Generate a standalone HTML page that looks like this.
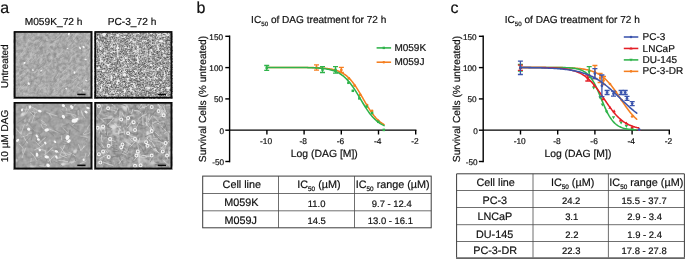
<!DOCTYPE html>
<html><head><meta charset="utf-8"><title>figure</title>
<style>
html,body{margin:0;padding:0;background:#fff;}
body{width:685px;height:259px;overflow:hidden;}
svg{display:block;will-change:transform;text-rendering:geometricPrecision;font-family:"Liberation Sans",sans-serif;fill:#111;}
text{stroke:#111;stroke-width:0.2px;}
</style></head><body>
<svg width="685" height="259" viewBox="0 0 685 259">
<defs>
<filter id="n1" x="0" y="0" width="100%" height="100%" color-interpolation-filters="sRGB"><feTurbulence type="fractalNoise" baseFrequency="0.3 0.3" numOctaves="3" seed="3" result="t"/><feColorMatrix in="t" type="matrix" values="0.3 0 0 0 0.51  0.3 0 0 0 0.51  0.3 0 0 0 0.51  0 0 0 0 1"/></filter>
<filter id="n2" x="0" y="0" width="100%" height="100%" color-interpolation-filters="sRGB"><feTurbulence type="fractalNoise" baseFrequency="0.7 0.7" numOctaves="2" seed="11" result="t"/><feColorMatrix in="t" type="matrix" values="0.88 0 0 0 0.15  0.88 0 0 0 0.15  0.88 0 0 0 0.15  0 0 0 0 1" result="g"/><feTurbulence type="fractalNoise" baseFrequency="0.3 0.3" numOctaves="2" seed="4" result="b"/><feColorMatrix in="b" type="matrix" values="0 0 0 0 0.93  0 0 0 0 0.93  0 0 0 0 0.93  6 0 0 0 -3.39" result="w"/><feMerge><feMergeNode in="g"/><feMergeNode in="w"/></feMerge></filter>
<filter id="n3" x="0" y="0" width="100%" height="100%" color-interpolation-filters="sRGB"><feTurbulence type="fractalNoise" baseFrequency="0.25 0.25" numOctaves="2" seed="5" result="t"/><feColorMatrix in="t" type="matrix" values="0.22 0 0 0 0.52  0.22 0 0 0 0.52  0.22 0 0 0 0.52  0 0 0 0 1" result="g"/><feTurbulence type="fractalNoise" baseFrequency="0.1 0.1" numOctaves="2" seed="9" result="b"/><feColorMatrix in="b" type="matrix" values="0 0 0 0 0.9  0 0 0 0 0.9  0 0 0 0 0.9  6 0 0 0 -4.2" result="w"/><feMerge><feMergeNode in="g"/><feMergeNode in="w"/></feMerge></filter>
<filter id="n4" x="0" y="0" width="100%" height="100%" color-interpolation-filters="sRGB"><feTurbulence type="fractalNoise" baseFrequency="0.3 0.3" numOctaves="2" seed="8" result="t"/><feColorMatrix in="t" type="matrix" values="0.32 0 0 0 0.46  0.32 0 0 0 0.46  0.32 0 0 0 0.46  0 0 0 0 1" result="g"/><feTurbulence type="fractalNoise" baseFrequency="0.09 0.09" numOctaves="2" seed="21" result="b"/><feColorMatrix in="b" type="matrix" values="0 0 0 0 0.85  0 0 0 0 0.85  0 0 0 0 0.85  5 0 0 0 -3" result="w"/><feMerge><feMergeNode in="g"/><feMergeNode in="w"/></feMerge></filter>
</defs>
<rect width="685" height="259" fill="#fff"/>
<g id="panel-a">
<text x="0.3" y="12.7" font-size="16">a</text>
<text x="53.6" y="25.3" font-size="10.2" text-anchor="middle">M059K_72 h</text>
<text x="132" y="25.3" font-size="10.2" text-anchor="middle">PC-3_72 h</text>
<text transform="translate(8.4,66.3) rotate(-90)" font-size="10" text-anchor="middle">Untreated</text>
<text transform="translate(8.4,136) rotate(-90)" font-size="10" text-anchor="middle">10 µM DAG</text>
<rect x="13.9" y="31.1" width="78.3" height="67.4" fill="#a8a8a8" filter="url(#n1)"/>
<path d="M27.43 62.03Q29.94 59.06 31.34 56.4M74.74 66.82Q74.9 66.7 77.24 64.51M85.37 54.69Q85.85 51.98 87.76 50.82M30.54 55.41Q30.98 53.65 32.82 49.71M57.06 89.43Q60.54 86.86 63.31 86.1M17.31 58.38Q18.85 56.64 21.88 53.26M82.97 48.67Q85.55 45.71 86.2 44.54M56.95 93.57Q59.31 91.08 60.34 88.56M37.86 70.35Q40.95 68.32 42.35 66.94M51.86 80.86Q53.75 77.07 54.9 74.47M78.17 89.93Q79.92 87.12 81.61 84.33M59.03 43.14Q59.67 40.9 61.92 37.45M67.96 41.53Q68.33 39.83 70.06 39.05M61.81 74.06Q63.65 70.37 66.29 69.02M25.14 45.94Q26.02 43.34 28.29 41.27M84.6 58.7Q87.06 56.09 88.74 53.6M56.31 77.13Q58.16 74.4 58.22 73.84M31.22 49.38Q33.11 47.68 34.32 47.8M21.73 92.17Q23.38 89.97 25.14 88.51M49.74 46.02Q51.37 43.74 54.71 42.85M46.74 91.22Q47.57 87.85 48.88 85.63M68.28 45.8Q70.81 42.7 74.44 40.71M38.91 91.61Q40.94 87.48 44.25 85.71M22.68 52.4Q25.47 50.74 26.57 47.55M42.39 75.47Q43.08 74.44 45.28 71.12M18.55 72.02Q18.89 70.9 20.93 67.9M17.13 79.24Q18.64 76.64 21.71 74.6M49.19 47.15Q50.2 44.92 50.97 43.79M62.12 72.96Q63.52 70.64 64.52 70.18M38.65 87.1Q40.91 85.48 43.69 84.05M68.11 86.95Q69.56 85.14 71.29 85.64M28.06 40.62Q28.16 39.44 30.21 37.94M86.75 42.72Q87.68 41.23 90.2 37.58M70.16 57.4Q74.33 56.63 76.9 54.23M25.29 90.3Q26.18 87.72 28.13 83.99M73.27 55.49Q74.77 55.04 76.24 54.36M25.94 72.84Q27.14 71 28.29 70.58M20.34 89.55Q21.57 86.85 25.06 84.03M86.52 81.2Q88.55 79.35 90.2 78.79M88.23 34.77Q88.22 33.46 90.03 33.1M39.05 88.23Q39.6 84.27 41.62 82.28M41.72 81.14Q43.43 77.34 44.12 75.54M39.68 46.61Q40.84 45.48 42.27 43.13M18.05 89.9Q19.91 87.2 20.12 86.7M56.11 93.97Q57.01 92.61 58.27 91.83M30.95 45.17Q32.32 45.03 34.67 42.95M85.51 50.05Q87.68 48.41 88.14 48.33M64.76 39.8Q67.13 38.35 68.95 37.53M72.85 65.92Q76 63.91 77.53 64.11M52.97 94.75Q56.75 92.04 58.47 90.49M58.95 69.42Q61.42 67.14 64.39 65.69M83.32 79.41Q84.83 76.79 85.77 75.39M52.98 40.09Q53.83 39.55 56.7 38.45M76.9 85.35Q77.29 83.92 78.48 81.57M59.96 63.34Q61.81 60.45 62.73 57.52M79.18 79.91Q79.82 76.53 80.93 75.36M86.57 91.98Q88.57 88.62 89.62 87.19M74.43 72.65Q76.71 70.59 80.06 67.22M56.88 87.67Q58.8 85.61 58.76 85.07M23.46 64.22Q25.48 61.38 27.36 59.32M68.27 94.77Q71.52 92.23 72.52 91.23M57.58 85.65Q59.89 82.6 61.33 79.79M86.73 34.2Q88.99 33.14 90.2 33.1M31.2 61.6Q34.23 59.3 35.46 57.12M31.73 73.52Q33.8 71.69 36.34 71.73M63.13 89.57Q63.52 87.28 65.64 83.39M72.1 48.85Q74 47.62 76.81 46.28M44.99 57.99Q46 55.51 48.86 52.7M73.12 36.08Q76.09 34.59 79.41 33.66M18.37 38.67Q21.07 36.11 23.67 35.18M61.41 91.51Q65.16 89.05 66.72 87.32M37.03 60.02Q39.59 57.61 43.16 55M62.91 80.68Q64.64 77.9 66.79 75.41M87.86 64.46Q87.86 62.1 90.2 60.27M54.63 58.6Q55.34 58.14 58.21 56.69M55.05 84.2Q57.72 82.07 58.97 78.02M82.98 84.46Q87.14 83.13 88.92 79.91M75.67 86.25Q77.93 84.75 80.11 81.19M37.64 73.69Q40.02 71.13 44.05 69.48M48.85 65.26Q49.77 64.09 52.38 63.05M27.14 55.75Q28.63 53.59 29.54 52.72M89.14 51.56Q89.82 49.61 90.2 47.24M58.71 54.89Q61.04 52.14 63.08 49.47M37.38 59.15Q40.46 56.94 41.16 53.65M88.61 54.25Q89.19 52.39 90.12 50.14M79.72 41.78Q80.3 39.49 82.33 39.31M68.4 67.91Q69.56 65.59 71.65 63.76M41.12 73.65Q42.98 71.82 44.6 69.66M20.18 82Q24.22 80.67 27.1 79M70.46 35.09Q71.66 33.15 72.61 33.1M73.03 40.12Q75.44 37.75 76.78 33.67M38 71.65Q38.07 69.26 39.67 69.03M71.88 37.85Q73.14 35.59 74.21 33.1M71.88 79.74Q75.58 79.23 76.96 77.63M51.45 75.08Q52.16 73.72 55.08 72.85M57.81 40.35Q58.13 39.85 60.84 37.86M28.58 89.76Q29.93 88.37 33.34 86.36M21.16 54.57Q23.58 51.26 24.98 47.55M61.63 79.83Q65.93 79.42 68.33 76.72M59.04 54.43Q59.23 53.87 61.64 52.45M59.91 78.99Q63.49 77.42 65.87 74.7M57.27 37.94Q59.66 36.37 62.22 33.1M25.29 36.19Q27.14 34.79 28.85 33.1M72.7 84.77Q74.44 81.36 76.13 79.56M74.73 37.02Q75.68 36.52 77.27 34.14M38.62 64.28Q39.21 63.06 40.46 60.79M70.09 61.72Q69.64 60.84 71.41 58.4M28.3 60.48Q30.48 59.18 32.23 57.04M65.91 38.16Q69.14 37.06 70.13 35.77M88.46 47.02Q88.92 43.96 90.2 42.39M60.6 88.71Q63.58 86.17 64.41 84.79M42.4 88.28Q44.37 87.6 45.55 87.01M82.45 69.08Q83.64 67.63 85.09 65.56M31.16 38.02Q32.08 34.62 34.69 33.1M76.77 77.6Q78.75 76.06 79.2 72.96M82.98 83.79Q82.94 83.55 84.84 81.41M76.44 71.33Q77.46 69.68 79.46 67.12M86.44 36.44Q86.9 34.42 88.9 33.1M75.98 69.19Q77.3 67.83 79.28 66.42M88.69 49.33Q89.42 47.6 90.2 45.17" fill="none" stroke="#c6c6c6" stroke-width="0.7" stroke-linecap="round" opacity="0.75"/>
<path d="M79.61 40.28Q80.57 38.35 83.07 38.51M34.01 90.36Q36.24 87.9 38.39 84.27M86.02 51.45Q87.83 50.04 90.2 48.5M62.26 46.82Q64.15 46.35 66.71 44.42M34.25 54.31Q37.78 52.41 39.48 51.35M38.69 53.72Q40.4 51.73 42.57 50.16M30.96 38.1Q33.28 35.56 34.43 33.1M86.54 42.07Q87.3 40.67 87.84 39.08M54.24 78.12Q55.99 76.16 57.67 72.82M64.87 85.18Q67.82 84.07 71.03 82.13M68.58 61.35Q69.21 58.11 71.17 55.98M38.85 43.17Q41.98 40.97 42.77 38.63M34.04 40.5Q35.82 39.05 39.37 37.77M75.58 52.04Q78.71 51.93 79.6 50.37M54.97 38.74Q57.95 36.32 59.92 33.1M57.15 59.31Q59.71 58.05 63.35 56.48M50.06 65Q51.89 62.56 55.32 62.5M65.04 73.5Q65.97 73.44 67.73 71.97M70.73 45.42Q73.16 42.67 74.19 41.43M31.78 81.35Q33.81 79.35 37.07 77.61M19.42 72.41Q23.32 71.47 25.39 68.87M20.86 80.67Q22.43 77.99 25.31 75.4M85.64 71.2Q87.78 68.56 89.44 64.38M50.96 42.67Q52.99 40.25 55.94 39.8M54.85 81.57Q57.49 78.81 59.1 74.79M33.69 71.82Q35.7 69.36 38.25 65.79M80.65 60.12Q82.83 58.15 83.93 57.61M32.17 93.14Q34.36 92.85 35.08 91.78M80.53 91.1Q81.04 89.88 82.67 87.83M20.72 81.19Q21.84 79.97 23.17 77.98M46.22 35.56Q49.32 33.25 50.02 33.11M72.63 42.33Q74.09 39.29 75.27 38.5M37.41 52.38Q39.48 48.99 41.76 47.93M48.71 62.43Q49.1 60.77 51.19 59.67M26.09 56.1Q27.47 55.87 28.38 53.53M39.16 41.16Q39.9 40.15 41.91 36.95M35.47 73.48Q37.28 72.15 37.8 70.81M37.38 69.02Q41.29 66.93 44.04 64.65M88.28 50.94Q90.3 48.53 90.2 48.29M40.64 47.98Q40.91 46.2 42.56 44.02M60.37 37.7Q61.67 34.68 62.89 33.1M38.72 69.44Q40.32 65.28 42.94 62.85M69.85 64.3Q70.52 62.92 72.1 60.28M72.32 82.51Q74.77 80.5 75.34 79.54M23.46 37.51Q26.19 36.39 27.87 33.2M58.63 60.25Q59.72 56.69 62.94 54.23M60.81 47.71Q65.45 47.24 68.18 44.67M44.72 56.45Q48.39 55.22 49.69 53.29M54.16 50.47Q56.59 48.74 57.92 45.92M69.84 39.39Q72.62 37.01 74 35.95M39.89 51.3Q41.71 50.34 41.69 47.09M42.17 61.29Q43.06 59.69 44.19 58.73M80.13 95.46Q82.31 93.5 83.58 90.07M58.28 92.21Q59.44 90.21 60.69 89.08M66.97 36.89Q68.03 35.92 70.76 33.1M41.9 78.73Q43.3 77.1 43.49 75.92M44.34 65.11Q44.99 63.74 45.61 61.78M57.97 44.42Q60.37 41.26 60.41 38.38M49.5 94.97Q51.98 93.05 53.6 89.35M39.46 55.38Q41.73 53.05 43.53 53.08" fill="none" stroke="#8e8e8e" stroke-width="0.7" stroke-linecap="round" opacity="0.75"/>
<ellipse cx="68.9" cy="34" rx="1.44" ry="0.91" transform="rotate(105 68.9 34)" fill="#f6f6f6"/>
<ellipse cx="80" cy="47.9" rx="1.37" ry="0.82" transform="rotate(52 80 47.9)" fill="#f6f6f6"/>
<ellipse cx="83.6" cy="47" rx="1.41" ry="0.85" transform="rotate(56 83.6 47)" fill="#f6f6f6"/>
<ellipse cx="67.5" cy="48.4" rx="0.82" ry="0.66" transform="rotate(2 67.5 48.4)" fill="#f6f6f6"/>
<ellipse cx="24.5" cy="62.9" rx="1.19" ry="0.97" transform="rotate(163 24.5 62.9)" fill="#f6f6f6"/>
<ellipse cx="85.6" cy="59.5" rx="1.15" ry="0.79" transform="rotate(12 85.6 59.5)" fill="#f6f6f6"/>
<ellipse cx="74.5" cy="72.6" rx="1.27" ry="1.03" transform="rotate(74 74.5 72.6)" fill="#f6f6f6"/>
<ellipse cx="41.2" cy="70.7" rx="0.88" ry="0.71" transform="rotate(156 41.2 70.7)" fill="#f6f6f6"/>
<ellipse cx="32.8" cy="70.1" rx="1.02" ry="0.75" transform="rotate(14 32.8 70.1)" fill="#f6f6f6"/>
<ellipse cx="28.7" cy="83.7" rx="1.44" ry="0.99" transform="rotate(54 28.7 83.7)" fill="#f6f6f6"/>
<ellipse cx="66.2" cy="88.7" rx="0.93" ry="0.71" transform="rotate(20 66.2 88.7)" fill="#f6f6f6"/>
<ellipse cx="83.6" cy="90.6" rx="1.1" ry="0.77" transform="rotate(42 83.6 90.6)" fill="#f6f6f6"/>
<ellipse cx="86.1" cy="80.4" rx="1.14" ry="0.64" transform="rotate(35 86.1 80.4)" fill="#f6f6f6"/>
<ellipse cx="47" cy="40" rx="0.68" ry="0.6" transform="rotate(170 47 40)" fill="#f6f6f6"/>
<ellipse cx="52" cy="45" rx="0.6" ry="0.46" transform="rotate(176 52 45)" fill="#f6f6f6"/>
<rect x="14.75" y="31.95" width="76.6" height="65.7" fill="none" stroke="#0a0a0a" stroke-width="1.7"/>
<rect x="77.3" y="93.7" width="8.2" height="1.5" fill="#0a0a0a"/>
<rect x="94.4" y="31.1" width="77.8" height="67.4" fill="#a8a8a8" filter="url(#n2)"/>
<path d="M139.13 46.06Q135.71 45.64 132.46 44.43M112.8 47.71Q110.93 47.13 110.44 44.29M102.45 45.97Q100.87 44.79 99.94 43.75M120.81 73.24Q122.47 71.36 124.47 70.43M105.36 84.66Q104.86 81.92 102.52 79.69M124.63 60.07Q122.28 57.99 122.29 56.09M135.82 55.31Q133.72 54.23 133.97 52.84M108.41 36.22Q109.4 36.29 112.06 35.46M149.69 56.37Q149.91 54.48 150.13 50.78M119.75 87.52Q116.99 84.1 116.61 82.68M99.7 55.33Q98.86 53.12 96.4 52.75M148.07 81.65Q144.73 78.99 143.12 77.86M154.31 79.43Q155.79 75.32 155.41 72.95M166.12 88.41Q168.28 88.4 170.2 87.49M122.56 37.63Q119.82 37.6 119.05 35.47M115.35 46.65Q114.59 46.12 111.91 46.45M104.27 74.21Q107.86 74.94 110.81 73.96M130.34 69.06Q132.07 67.33 134.9 64.82M137.06 66.97Q134.42 66.97 132.81 66.12M161.6 58.71Q161.8 56.84 164.08 56.66M106.05 55.13Q106.81 53.34 106.79 50.71M146.74 56.47Q145.41 53.79 145.86 50.89M120.26 75.6Q122.26 73.45 124.58 71.53M118.72 36.59Q117.69 36.4 115.52 36.51M145.27 50.62Q143.04 50.08 139.49 49.72M168.02 90.72Q168.35 88.62 168.9 87.61M141.66 42.91Q137.91 42.07 136.26 40.32M116.5 73.29Q114.34 72.69 110.75 72.87M149.82 43.11Q150.01 39.66 151.32 37.46M112.96 83Q113.49 81.05 115.49 80.74M149.81 70.16Q147 68.18 144.43 68.42M110.99 65.82Q108.18 64.42 105.32 64.33M139.95 91.49Q138.81 91.21 135.72 90.56M131.94 42.01Q133.91 42.3 135.35 41.57M168.72 71.09Q168.58 66.71 170.2 64.44M118.1 66.69Q119.53 64.43 122.23 61.11M125.29 68.38Q124.68 68.2 122.06 66.78M164.58 54.52Q166.44 53.16 166.38 51.96M111.79 43.38Q113.16 42.51 112.48 39.79M151.81 80.53Q149.7 79.38 148.93 78.1M99.8 88.89Q99.69 87.56 98.8 85.53M146.39 56.78Q143.64 57.33 140.34 55.59M158.42 37.51Q161.53 36.39 163.87 35.9M158.75 36.84Q161.05 35.19 165.47 35.92M106.41 94.65Q102.59 94.28 100.28 93.01M154.5 78.73Q153.01 78.99 150.44 78.36M117.83 58.5Q117.65 56.49 117.52 52.47M127.59 86.84Q127.95 84.08 127.29 83.67M147.4 51.66Q145.49 50.18 145.32 46.57M114.82 42.48Q116.2 42.63 119.49 41.53M104.4 67.34Q105.63 64.89 105.35 60.86M109.22 38.8Q107.26 38.06 103.61 36.3M134.01 92.91Q132.81 89.83 129.63 88.87M150.62 69.97Q152.2 68.95 152.74 67.78M137.78 51.74Q136.49 50.89 132.89 49.78M149.91 39.46Q150.36 36.8 149.24 35.96M107.99 64.79Q109.07 63.71 111.8 62.99M154.31 44.62Q156.74 44.3 160.37 43.17M97.91 53.88Q100.19 51.86 100.62 51.48M149.09 89.99Q146.85 89.81 145.48 88.32M139.11 55.62Q136.79 53.12 135.33 50.27M118.54 51.65Q114.35 52.39 111.81 51.13M148.65 34.78Q149.93 34.84 149.34 33.1M115.41 61.45Q117.11 59.2 120.71 57.35M146.27 87.69Q148.75 86.68 152.78 87.45M140.18 59.02Q139.27 56.34 137.81 52.76M112.11 89.05Q110.05 86.56 106.64 85.64M101.22 56.51Q104.48 55.64 105.96 53.05M147.42 63.82Q145.15 62.8 144.45 61.79M151.85 73.12Q149.59 72.2 148.19 71.66M128.88 77.16Q128.19 76.45 127.55 74.3M123.67 69.18Q127.75 68.48 130.42 67.93M118.93 50.96Q116.51 51.15 115.52 49.13M134.49 51.61Q134.64 47.79 132.94 45.67M147.09 35.81Q147.13 33.93 148.07 33.1M138.28 79.96Q138.89 76.97 138.15 75.3M169.05 35.55Q166.5 33.98 165.22 33.21M109.66 93.92Q112.9 92.27 115.96 92.28M98.7 47.67Q97.93 44.97 98.18 41.88M103.32 55.12Q101.6 54.75 100.43 53.34M121.49 59.6Q123.42 58.33 125.13 55.75M102.71 46.3Q101.83 44.81 102.82 43.22M108.96 66.39Q108.26 66.03 106.05 63.46M130.66 88.72Q133.41 87.01 133.84 83.11M108.7 80.26Q108.18 77.04 106.64 74.89M157.3 78.42Q156 77.16 153.58 78.02M99.72 44.49Q99.1 43.25 96.4 40.17M112.08 46.03Q112.46 44.17 113.21 42.88M156.35 71.74Q154.16 70.47 150.7 69.13M126.78 67.02Q126.4 65.35 124.33 62.84" fill="none" stroke="#ececec" stroke-width="0.8" stroke-linecap="round" opacity="0.75"/>
<path d="M115.66 68.75Q116.95 67.72 120.13 66.93M164.96 77.26Q163.94 77.09 161.84 76.43M97.85 53.15Q97.07 51.29 98.09 48.82M141.32 73.43Q139.95 71.77 140.43 68.54M159.74 86.37Q161.44 83.2 164.13 82.19M153.79 86.89Q153.46 84.51 151.7 80.48M106.07 38.3Q103.35 38.28 99.59 37.7M125.83 86.8Q128.6 85.4 129.91 86.1M148.81 74.02Q148.6 73.07 149.49 70.64M153.2 54.31Q153.92 52.97 154.92 51.13M165.45 53.81Q164.58 52.73 164.07 50.49M144.94 67.7Q148.18 65.13 150.06 64.08M131.83 68.22Q134.16 66.8 136.69 66.44M117.27 59.97Q119.57 59.6 120.98 57.16M165.46 45.17Q166.26 43.75 166.6 41.41M139.72 64.37Q136.97 63.35 132.77 63.52M152.49 36.31Q151.5 34.52 148.47 33.1M148.45 49.48Q150.11 47.17 154.13 45.92M145.11 67.09Q144.09 65.54 141.72 61.87M102.16 40.6Q104.18 40.28 105.95 38.91M110.44 64.57Q111.87 63.9 114.42 64.36M146.79 93.59Q146.75 92.26 146.89 90.32M108.06 92.82Q107.34 90.98 107.06 88.84M160.62 72.03Q157.68 72.81 156.3 71.38M145.76 49.12Q142.62 48.44 139.43 46.28M104.14 50.99Q101.41 51.74 99.3 50.12M139.04 78.19Q142.84 77.18 144.64 75.72M106.18 43.38Q106.6 41.2 104.98 37.3M136.83 59.82Q133.34 59.65 130.79 59.4M105.9 36.81Q106.8 36.19 107.14 33.81M151.26 93.28Q149.02 92.09 147.65 91.5M136.42 95.29Q138.49 95 141.2 94.4M146.45 43.53Q148.28 42.24 150.04 41.46M120.3 65.31Q119.79 62.27 118.15 59.69M163.9 41.27Q165.42 40.36 167.04 40.29M111.66 34.55Q115 35.11 117.71 33.44M115.5 70.26Q117.14 65.94 116.76 63.85M138.49 81.86Q137.51 81.4 134.21 79.31M131.76 76.54Q129.45 72.84 129.32 70.54M141.24 41.19Q139.43 42.2 137.62 40.87M157.54 82.17Q158.23 79.93 161.01 79.03M133.09 71.48Q133.02 70.61 133.58 67.92M118.83 85.53Q115.56 84.43 113.36 84.42M132.37 50.11Q129.77 48.97 127.02 49.31M101.2 72.76Q103.28 73.41 105.99 72.62" fill="none" stroke="#585858" stroke-width="0.8" stroke-linecap="round" opacity="0.75"/>
<rect x="95.25" y="31.95" width="76.1" height="65.7" fill="none" stroke="#0a0a0a" stroke-width="1.7"/>
<rect x="157.8" y="93.7" width="8.2" height="1.5" fill="#0a0a0a"/>
<rect x="13.9" y="102" width="78.3" height="67.3" fill="#a4a4a4" filter="url(#n3)"/>
<path d="M27.61 142.76Q26.27 140.44 24.4 138.68M61.55 139.71Q61.63 137.62 61.14 135.43M80.49 150.07Q82.1 148.65 85.51 145.73M66.77 142.35Q66.09 138.88 66.75 135.26M27.41 143.07Q24.66 138.48 23.12 135.84M40.97 147.15Q38.15 144.21 35.66 141.76M82.52 115.24Q82.08 112.46 81.02 110M57.25 132.01Q53.95 130.86 49.09 129.04M50.89 163.08Q50.4 160.23 48.15 156.5M45.15 150.55Q41.49 149.55 37.24 148.38M87.32 137.34Q85.06 135.9 80.66 136.02M22.14 157.6Q23.35 153.28 25.75 148.08M84.87 118.06Q82.46 114.75 81.38 111.84M27.23 134.41Q29.68 132.86 32.66 133M25.49 114.23Q27.92 111.12 29.24 108.41M34.49 116.53Q31.67 114.25 30.28 112.14M75.22 155.86Q72.38 153.49 68.85 152.43M23.62 115.42Q26.04 112.06 26.85 106.46M83.37 133.76Q84 132.57 85.99 130.67M67.65 161.5Q63.55 160.87 58.78 160.37M77.4 121.8Q75.18 117.17 71.21 114.66M30.53 163.22Q31.15 160.71 31.29 158.29M80.47 163.57Q84.38 162.15 86.3 160.95M34.88 113.48Q33.83 111.65 33.84 109.55M83.73 134.69Q87.58 134.19 90.2 132.47M86.22 106.9Q85.79 105.38 84.89 104M36.63 160.34Q34.74 156.38 30.64 152.16M22.64 147.54Q21.32 145.17 19.29 144.21M27.92 109.14Q24.65 109.88 22.69 108.78M26.62 125.76Q29.31 121.84 29.77 119.16M51.86 117.58Q50.14 115.58 49.18 113.64M66.99 110.45Q66.96 107.47 64.55 106.8M49.6 165.97Q44.75 166.94 39.77 165.64M20.95 133.93Q22.48 129.13 24.29 124.58M44.36 154.83Q47.98 151.98 52.45 147.67M70.69 154.92Q67.28 154.08 62.22 152.6M37.41 110.22Q33.83 107.49 28.37 105.9M70.29 162.04Q72.22 161.16 75.72 161.64M66.06 155.35Q64.49 152.45 60.62 147.28M48.67 161.49Q52.12 157.55 55.15 155.2M45.81 154.84Q45.42 152.29 45.34 150.79M21.58 137.08Q24.36 136.56 27.62 135.17M22.66 153.13Q22.55 151.71 23.08 148.57M81.45 150.19Q83.82 147.63 84.63 145.03M62.83 149.37Q64.86 146.47 64.72 144.38M78.24 114.49Q77.7 112.67 78.21 110.39M72.56 107.38Q74.99 106.52 75.46 104M80.86 150.46Q79.79 147.15 78.5 144.47M37.87 144.77Q41.24 140.41 45.31 137.69M43.3 128.81Q41.9 127.46 41.25 124.63M34.45 149.99Q38.82 148.38 43.81 144.49M46.07 125.15Q43.47 124.76 41.71 122.55M57.24 116.02Q52.63 114.58 46.83 112.66M71.4 163.1Q73.98 161.05 75.31 159.4M88.12 156.12Q89.43 154.52 90.2 152.44M58.85 152.74Q55.62 150.71 51.92 150.31M76.25 115.35Q70.48 113.45 66.18 112.99M67.68 133Q64.93 129.78 62.98 128.33M56.74 158.78Q62.4 156.6 66.87 155.27M87.1 128.92Q88.34 126.11 89.49 124.85M72.56 125.19Q75.97 122.51 79.41 119.06M31.84 122.73Q33.09 118.35 35.06 113.4M66.88 157.98Q64.26 157.24 59.75 154.46M83.37 147.56Q83.94 144.41 86.41 139.23M46.86 125.72Q44.82 122.07 41.21 120.28M73.57 162.68Q68.41 162.64 62.9 160.72M59.61 157.03Q60.8 152.58 63.8 146.93M84.72 160.44Q84.39 157.71 85.87 153.3M36.55 112.47Q34.05 112.67 31.95 111.46M21.98 134.51Q18.2 131.43 15.9 128.45" fill="none" stroke="#d2d2d2" stroke-width="0.9" stroke-linecap="round" opacity="0.75"/>
<path d="M75.67 161Q75.97 159.05 74.4 156.52M73.67 123.23Q78.11 123.22 81.11 122.9M29.98 162.7Q33.25 161.4 35.43 162.12M64.52 113.37Q63.39 112.22 61.71 110.31M68.15 148.96Q68.98 147.3 69.38 143.88M63.58 134.9Q58.68 131.85 54.99 130.32M17.31 158.45Q16.7 156.17 15.97 153.13M84.74 145.27Q84.55 142.45 85.86 140.19M70.43 144.97Q67.81 142.62 62.79 141.47M67.63 144.59Q65.3 144.95 63.44 144.48M33.49 130.96Q29.99 129.69 28.69 130.47M69.44 140.33Q66.84 139.63 63.28 139.17M68.35 162.43Q71.11 157.16 72.54 153.23M44.81 165.87Q46.32 161.37 47.62 157.17M68.03 137.02Q69.84 134.3 69.83 130.08M34.43 129.39Q31.27 125.83 27.63 121.65M31.47 139.8Q32.1 135.1 33.17 130.74M60.23 118.45Q65.66 117.52 69.78 116.47M35.02 120.4Q38.78 118.43 40.16 117.53M22.99 145.34Q25.69 141.29 29.69 136.83M40.47 133.17Q36.17 132.82 32.46 133.13M68.08 139.98Q69.45 135.04 70.16 130.06M60.54 134.99Q62.67 135.22 65.3 133.04M53.72 135.61Q50.65 133.03 48.29 130.98M41.17 140.06Q41.05 136.2 38.83 133.09M62.07 165.83Q58.76 162.93 53.96 161.49M62.69 126.17Q66.35 125.91 68.66 123.63M79.23 131.71Q75.25 129.43 70.72 125.69M73.08 105.71Q70.85 105.59 69.3 104M70.26 110.59Q73.32 109.56 76.97 110.4M17.03 123.28Q22 120.17 24.72 118.57M76.86 121.56Q77.57 116.37 76.64 111.43M37.13 159.29Q38.17 158.62 40.94 157.67M71.8 120.06Q67.01 118.89 64.59 116.45M26.84 106.65Q27.89 105.65 29.43 104" fill="none" stroke="#888888" stroke-width="0.9" stroke-linecap="round" opacity="0.75"/>
<ellipse cx="63.4" cy="105.6" rx="1.7" ry="1.52" transform="rotate(37 63.4 105.6)" fill="#f6f6f6"/>
<ellipse cx="71.7" cy="107" rx="2.2" ry="1.37" transform="rotate(54 71.7 107)" fill="#f6f6f6"/>
<ellipse cx="39.8" cy="111.1" rx="1.91" ry="1.27" transform="rotate(18 39.8 111.1)" fill="#f6f6f6"/>
<ellipse cx="63.4" cy="116.7" rx="1.99" ry="1.51" transform="rotate(54 63.4 116.7)" fill="#f6f6f6"/>
<ellipse cx="74.5" cy="120.8" rx="2.96" ry="1.95" transform="rotate(171 74.5 120.8)" fill="#f6f6f6"/>
<ellipse cx="76.5" cy="119.5" rx="2.3" ry="1.29" transform="rotate(144 76.5 119.5)" fill="#f6f6f6"/>
<ellipse cx="28.7" cy="129.2" rx="1.7" ry="1.46" transform="rotate(34 28.7 129.2)" fill="#f6f6f6"/>
<ellipse cx="46.7" cy="130" rx="2.32" ry="1.59" transform="rotate(166 46.7 130)" fill="#f6f6f6"/>
<ellipse cx="37" cy="136.1" rx="1.9" ry="1.03" transform="rotate(50 37 136.1)" fill="#f6f6f6"/>
<ellipse cx="38.4" cy="139.4" rx="1.53" ry="1.17" transform="rotate(30 38.4 139.4)" fill="#f6f6f6"/>
<ellipse cx="45.3" cy="143" rx="1.55" ry="1.09" transform="rotate(57 45.3 143)" fill="#f6f6f6"/>
<ellipse cx="55" cy="141.7" rx="1.48" ry="1.01" transform="rotate(39 55 141.7)" fill="#f6f6f6"/>
<ellipse cx="67.5" cy="137.5" rx="2.5" ry="1.9" transform="rotate(120 67.5 137.5)" fill="#f6f6f6"/>
<ellipse cx="68.9" cy="141.1" rx="2.06" ry="1.41" transform="rotate(143 68.9 141.1)" fill="#f6f6f6"/>
<ellipse cx="17.6" cy="140.3" rx="1.87" ry="1.19" transform="rotate(135 17.6 140.3)" fill="#f6f6f6"/>
<ellipse cx="39.8" cy="150" rx="1.32" ry="1.13" transform="rotate(67 39.8 150)" fill="#f6f6f6"/>
<ellipse cx="56.4" cy="151.4" rx="1.7" ry="1.23" transform="rotate(15 56.4 151.4)" fill="#f6f6f6"/>
<ellipse cx="37" cy="154.7" rx="2.1" ry="1.29" transform="rotate(82 37 154.7)" fill="#f6f6f6"/>
<ellipse cx="46.7" cy="156.9" rx="2.24" ry="1.51" transform="rotate(10 46.7 156.9)" fill="#f6f6f6"/>
<ellipse cx="48.1" cy="165.3" rx="1.86" ry="1.58" transform="rotate(42 48.1 165.3)" fill="#f6f6f6"/>
<ellipse cx="56.4" cy="157" rx="1.75" ry="1.1" transform="rotate(59 56.4 157)" fill="#f6f6f6"/>
<ellipse cx="83.6" cy="159.7" rx="1.32" ry="1" transform="rotate(75 83.6 159.7)" fill="#f6f6f6"/>
<ellipse cx="86" cy="112" rx="1.78" ry="1.19" transform="rotate(34 86 112)" fill="#f6f6f6"/>
<ellipse cx="88" cy="108" rx="1.78" ry="1.12" transform="rotate(14 88 108)" fill="#f6f6f6"/>
<ellipse cx="30" cy="107" rx="1.71" ry="1.15" transform="rotate(113 30 107)" fill="#f6f6f6"/>
<ellipse cx="22" cy="110" rx="1.45" ry="1.03" transform="rotate(101 22 110)" fill="#f6f6f6"/>
<rect x="14.75" y="102.85" width="76.6" height="65.6" fill="none" stroke="#0a0a0a" stroke-width="1.7"/>
<rect x="77.3" y="164.6" width="8.2" height="1.5" fill="#0a0a0a"/>
<rect x="94.4" y="102" width="77.8" height="67.3" fill="#a6a6a6" filter="url(#n4)"/>
<path d="M167.7 132.97Q163.97 128.62 161.62 126.29M140.68 112.47Q138.43 110.42 134.4 110.21M103.3 118.64Q107.53 117.32 113.07 117.88M106.56 137.09Q107.87 135.09 108.05 132.01M127.2 153.19Q123.17 150.81 120.35 149.05M139.07 162.98Q138.8 158.31 139.73 154.68M112.89 165.46Q108.14 164.3 103.24 162.14M118.69 134.52Q118.72 131.13 119.93 129.66M163.42 110.93Q159.59 107.43 157.73 104M168.9 165.49Q166.41 162.39 162.92 160.28M136.89 141.59Q133.9 140.37 131.19 137.95M102.04 132.27Q101.98 130.45 100.13 128.41M138 143.16Q139.16 140.89 139.96 137.91M124.69 134.26Q124.57 130.74 123.62 128.04M146.58 157.04Q142.26 157.81 138.84 156.56M110.46 127.28Q115.57 127.67 120.13 126.29M165.18 146.82Q167.11 143 168.41 141.27M99.42 159.05Q102.91 156.49 106.73 154.94M159.81 122.55Q156.24 118.68 153.53 116.01M134.82 129.5Q137.62 125.81 139.01 122.51M107.18 152.48Q104.52 149.05 101.64 143.83M164.45 105.57Q166.92 104.73 170.2 105.13M130.53 146.52Q132.78 144.05 137.37 139.19M153.56 138.74Q156.96 138.41 158.28 137.95M159.15 153.04Q154.77 149.77 151.57 147.72M128.54 152.06Q125.27 148.7 121.62 145.46M111.35 145.87Q111.7 142.73 110.96 137.3M165.15 111.57Q164.56 108.23 163.06 105.93M164.23 133.25Q166.68 131.34 170.2 131.72M154.2 136.99Q152.02 131.61 150.68 126.92M124.33 117.14Q122.8 114.91 122.17 112.9M148.32 121.8Q149.76 119.19 152.04 115.79M104.47 129.5Q102.77 128.56 102.05 125.39M132.06 145.57Q129.31 143.86 125.59 141.46M99.7 113.7Q102.11 109.57 102.23 104.8M156.51 150.68Q155.01 145.78 151.4 141.23M116.6 111.76Q114.25 109.72 111.15 109.87M99.4 133.23Q99.9 129.12 102.71 126.15M160.36 149.46Q163.98 145.09 166.8 142.17M119.06 163.62Q120.05 162.32 122.4 159.25M146.75 141.22Q148.31 136.94 147.88 131.33M118.9 119.47Q120.25 116.01 120.21 111.82M150.72 141.97Q149.85 140.2 146.66 137.76M148.45 119.31Q149.06 117.48 149.23 114.55M131.44 138.33Q132.81 137.55 136 137.64M114.86 113.76Q117.2 112.03 117.99 108.21M168.75 150.2Q170.67 149.28 170.2 147.42M158.99 117.24Q161.76 116.06 164.41 115.52M131.2 113.48Q132.96 111.89 132.67 109.56M138.44 108.87Q140.16 106.2 141.25 104M154.96 121.85Q158.66 122.49 164.06 121.71M158.67 123.61Q156.22 122.29 153.32 122.95M168.4 139.7Q168.03 136.83 168.29 133.6M127.11 128.04Q130.52 124.9 132.35 120.57M165.14 114.45Q161.27 111.5 158.91 106.59M133.47 115.91Q131.47 115.26 128.01 115.89M161.47 107.33Q160.56 106.64 157.88 104M149.93 156.71Q146.22 156.5 142.85 155.2M151.32 129.78Q147.42 126.22 145.15 122.24M132.27 141.52Q130.79 140.4 129.79 138.13M114.72 106.26Q113.85 105.23 111.65 104M160.61 115.04Q161.72 113.35 162.07 110.4M102.08 141.68Q100.83 137.65 101.51 135.25M143.14 125.89Q142.66 119.72 142.91 115.06M135.19 136.33Q132.33 136.7 129.42 135.77M146.54 156.02Q144.43 154.94 141.85 155.47M140.1 108.51Q142.33 107.34 146.73 106.41M157.64 151.51Q153.87 148.38 149.54 144.76M166.24 112.94Q164.54 110.06 165.17 105.38M146.21 125.83Q147.1 121.17 146.91 116.29M159.16 135.95Q156.81 134.55 155.75 132.81M164.4 149.36Q163.56 148.19 160.48 147.19M115.68 133.41Q120.34 133.19 123.32 132.29M126.14 154.94Q124.55 153.99 121.23 153.17M105.49 132.48Q104.28 130.19 104.78 127.8M126.78 124.8Q127.27 120.66 125.91 116.77M138.65 149.59Q137.58 147.03 138.05 144.48M133.93 160.55Q137.87 155.85 140.11 151.77M115.35 141.56Q113.3 139.92 109.32 140.53M168.08 159.46Q167.02 156.47 165.69 155.12M148.03 105.62Q148.69 104.59 147.89 104M118.05 133.78Q118.28 130.9 120.45 126.38M112.19 116.45Q108.43 116.43 106.7 115.83M138.47 118.95Q141.56 115.29 146.5 113.9M144.88 108.22Q141.96 107.23 140.95 104M107.2 125.04Q111.08 121.94 113.62 117.89M151.86 128.02Q152.43 123.93 152.41 122.13M104 121.7Q103.58 120.22 100.88 118.66M121.27 131.1Q118.14 127.56 114.73 123.37M163.02 142.96Q159.35 141.16 157.87 141.09" fill="none" stroke="#dedede" stroke-width="0.9" stroke-linecap="round" opacity="0.75"/>
<path d="M111.32 128.46Q107.3 127.28 104.46 124.29M168.85 158.54Q167.73 152.98 166.83 149.06M124.97 118.74Q129.26 117.84 131.34 117.32M104.03 112.75Q107.9 111.43 110.95 111.03M143.38 125.85Q140.15 125.63 137.12 123.42M145.94 150.85Q144.62 146.81 144.2 141.89M100.01 120.16Q97.05 118.58 96.4 115.64M129.69 118Q127.85 113.94 127.21 107.87M102.1 148.3Q99.18 144.49 96.4 141.63M113.18 151.57Q117.39 151.8 120.66 150.93M154.18 134.17Q153.44 129.47 151.3 125.88M113.08 156.52Q116.42 157.02 118.89 156.15M159.5 165.29Q156.76 164.02 155.05 164.5M117.71 110.56Q119.66 108.61 121.33 108.75M151.97 105.14Q153.44 103.37 156.76 104M133.96 109.21Q137.17 108.38 138.78 109.19M126.9 152.45Q128.75 150.5 129.01 147.9M107.13 136.91Q105.98 131.33 105.92 127.13M162.38 129.04Q164.36 127.85 165.87 124.95M144.8 142.28Q147.61 139.77 149.57 137.93M118.82 150.53Q113.29 148.75 109.57 145.71M136.12 109.1Q135.41 105.51 134.79 104M137.33 134.45Q131.76 134.04 127.95 131.66M125.8 106.02Q122.66 104.18 118.11 104M150.4 161.99Q153.47 156.22 154.89 152.31M161.07 140.94Q157.32 137.36 154.73 135.09M101.99 148.68Q104.47 148.53 106.21 148.4M168.7 113.38Q170.18 112.26 170.2 108.96M166.64 112.05Q164.98 107.88 165.23 104M149.51 149.14Q152.7 147.76 156.46 147.25M122.53 163.3Q119.67 159.11 119.21 155.67M152.84 114.42Q153.24 112.97 155.37 111.16M120.73 155.41Q123.51 151.92 124.31 146.64M164.8 163.85Q159.66 164.06 154.72 161.91M116.83 145.48Q115.2 144.37 112.71 145.41M166.56 143.95Q167.73 141.56 166.67 137.15M106.5 119.81Q108.24 119.74 111.7 119.26M144.02 152.34Q142.15 147.23 138.22 144.41M167.21 132.1Q166.45 128.06 164.39 123.21M108.59 137.79Q107.16 136.49 104.58 136.14M120.83 125.16Q121.02 122.39 120.24 120.36M128.35 158.02Q131.68 157.04 136.34 154.12M143.12 114.14Q144.81 111.64 145.97 107.43M154.6 123.46Q156.77 122.96 160.04 121.72M144.94 136.68Q148.53 134.45 153.71 133.81" fill="none" stroke="#7c7c7c" stroke-width="0.9" stroke-linecap="round" opacity="0.75"/>
<circle cx="98.9" cy="106.1" r="1.45" fill="#9c9c9c" stroke="#f4f4f4" stroke-width="1.1"/>
<circle cx="108.1" cy="108.3" r="1.45" fill="#9c9c9c" stroke="#f4f4f4" stroke-width="1.1"/>
<circle cx="151.7" cy="107" r="1.45" fill="#9c9c9c" stroke="#f4f4f4" stroke-width="1.1"/>
<circle cx="158.6" cy="111.1" r="1.45" fill="#9c9c9c" stroke="#f4f4f4" stroke-width="1.1"/>
<circle cx="163.6" cy="115.3" r="1.45" fill="#9c9c9c" stroke="#f4f4f4" stroke-width="1.1"/>
<circle cx="128.1" cy="118" r="1.45" fill="#9c9c9c" stroke="#f4f4f4" stroke-width="1.1"/>
<circle cx="133.6" cy="122.2" r="1.45" fill="#9c9c9c" stroke="#f4f4f4" stroke-width="1.1"/>
<circle cx="121.2" cy="119.4" r="1.45" fill="#9c9c9c" stroke="#f4f4f4" stroke-width="1.1"/>
<circle cx="97.6" cy="127.8" r="1.45" fill="#9c9c9c" stroke="#f4f4f4" stroke-width="1.1"/>
<circle cx="103.1" cy="126.4" r="1.45" fill="#9c9c9c" stroke="#f4f4f4" stroke-width="1.1"/>
<circle cx="135" cy="130" r="1.45" fill="#9c9c9c" stroke="#f4f4f4" stroke-width="1.1"/>
<circle cx="151.7" cy="131.1" r="1.45" fill="#9c9c9c" stroke="#f4f4f4" stroke-width="1.1"/>
<circle cx="128.1" cy="133.3" r="1.45" fill="#9c9c9c" stroke="#f4f4f4" stroke-width="1.1"/>
<circle cx="135" cy="138.9" r="1.45" fill="#9c9c9c" stroke="#f4f4f4" stroke-width="1.1"/>
<circle cx="110" cy="138.9" r="1.45" fill="#9c9c9c" stroke="#f4f4f4" stroke-width="1.1"/>
<circle cx="122.5" cy="144.4" r="1.45" fill="#9c9c9c" stroke="#f4f4f4" stroke-width="1.1"/>
<circle cx="146.1" cy="142.2" r="1.45" fill="#9c9c9c" stroke="#f4f4f4" stroke-width="1.1"/>
<circle cx="165.6" cy="143" r="1.45" fill="#9c9c9c" stroke="#f4f4f4" stroke-width="1.1"/>
<circle cx="147.5" cy="145.8" r="1.45" fill="#9c9c9c" stroke="#f4f4f4" stroke-width="1.1"/>
<circle cx="108.7" cy="145.8" r="1.45" fill="#9c9c9c" stroke="#f4f4f4" stroke-width="1.1"/>
<circle cx="121.2" cy="147.2" r="1.45" fill="#9c9c9c" stroke="#f4f4f4" stroke-width="1.1"/>
<circle cx="137.8" cy="151.4" r="1.45" fill="#9c9c9c" stroke="#f4f4f4" stroke-width="1.1"/>
<circle cx="136.4" cy="155.6" r="1.45" fill="#9c9c9c" stroke="#f4f4f4" stroke-width="1.1"/>
<circle cx="103.1" cy="151.4" r="1.45" fill="#9c9c9c" stroke="#f4f4f4" stroke-width="1.1"/>
<circle cx="98.9" cy="154.2" r="1.45" fill="#9c9c9c" stroke="#f4f4f4" stroke-width="1.1"/>
<circle cx="108.7" cy="156.9" r="1.45" fill="#9c9c9c" stroke="#f4f4f4" stroke-width="1.1"/>
<circle cx="151.7" cy="155.6" r="1.45" fill="#9c9c9c" stroke="#f4f4f4" stroke-width="1.1"/>
<circle cx="162.8" cy="151.4" r="1.45" fill="#9c9c9c" stroke="#f4f4f4" stroke-width="1.1"/>
<circle cx="167" cy="155.6" r="1.45" fill="#9c9c9c" stroke="#f4f4f4" stroke-width="1.1"/>
<circle cx="135" cy="165.8" r="1.45" fill="#9c9c9c" stroke="#f4f4f4" stroke-width="1.1"/>
<circle cx="140.6" cy="165.3" r="1.45" fill="#9c9c9c" stroke="#f4f4f4" stroke-width="1.1"/>
<circle cx="100.3" cy="162.5" r="1.45" fill="#9c9c9c" stroke="#f4f4f4" stroke-width="1.1"/>
<rect x="95.25" y="102.85" width="76.1" height="65.6" fill="none" stroke="#0a0a0a" stroke-width="1.7"/>
<rect x="157.8" y="164.6" width="8.2" height="1.5" fill="#0a0a0a"/>
</g>
<text x="196.5" y="12.7" font-size="16">b</text>
<g>
<text x="251.1" y="22.8" font-size="10.08">IC<tspan font-size="6.2" dy="3.5">50</tspan><tspan dy="-3.5"> of DAG treatment for 72 h</tspan></text>
<path d="M229.6 35.5 V162.3" stroke="#000" stroke-width="1.4" fill="none"/>
<path d="M229.6 130.1 H416.4" stroke="#000" stroke-width="1.4" fill="none"/>
<path d="M225.3 36.3 H229.6" stroke="#000" stroke-width="1.4"/>
<text x="223" y="39.7" font-size="8.2" text-anchor="end">150</text>
<path d="M225.3 67.6 H229.6" stroke="#000" stroke-width="1.4"/>
<text x="223" y="71" font-size="8.2" text-anchor="end">100</text>
<path d="M225.3 98.9 H229.6" stroke="#000" stroke-width="1.4"/>
<text x="223" y="102.3" font-size="8.2" text-anchor="end">50</text>
<path d="M225.3 130.2 H229.6" stroke="#000" stroke-width="1.4"/>
<text x="224.1" y="133.6" font-size="8.2" text-anchor="end">0</text>
<path d="M225.3 161.5 H229.6" stroke="#000" stroke-width="1.4"/>
<text x="224.1" y="164.9" font-size="8.2" text-anchor="end">-50</text>
<path d="M266.9 130.1 V134.5" stroke="#000" stroke-width="1.4"/>
<text x="266.1" y="144.4" font-size="8.4" text-anchor="middle">-10</text>
<path d="M304.1 130.1 V134.5" stroke="#000" stroke-width="1.4"/>
<text x="303.3" y="144.4" font-size="8.4" text-anchor="middle">-8</text>
<path d="M341.3 130.1 V134.5" stroke="#000" stroke-width="1.4"/>
<text x="340.5" y="144.4" font-size="8.4" text-anchor="middle">-6</text>
<path d="M378.5 130.1 V134.5" stroke="#000" stroke-width="1.4"/>
<text x="377.7" y="144.4" font-size="8.4" text-anchor="middle">-4</text>
<path d="M415.7 130.1 V134.5" stroke="#000" stroke-width="1.4"/>
<text x="414.9" y="144.4" font-size="8.4" text-anchor="middle">-2</text>
<path d="M266.9 67.4 L267.83 67.4 L268.76 67.4 L269.69 67.4 L270.62 67.4 L271.55 67.4 L272.48 67.4 L273.41 67.4 L274.34 67.4 L275.27 67.4 L276.2 67.4 L277.13 67.4 L278.06 67.4 L278.99 67.41 L279.92 67.41 L280.85 67.41 L281.78 67.41 L282.71 67.41 L283.64 67.41 L284.57 67.41 L285.5 67.41 L286.43 67.41 L287.36 67.41 L288.29 67.41 L289.22 67.42 L290.15 67.42 L291.08 67.42 L292.01 67.42 L292.94 67.43 L293.87 67.43 L294.8 67.43 L295.73 67.43 L296.66 67.44 L297.59 67.44 L298.52 67.45 L299.45 67.45 L300.38 67.46 L301.31 67.46 L302.24 67.47 L303.17 67.48 L304.1 67.49 L305.03 67.5 L305.96 67.51 L306.89 67.52 L307.82 67.53 L308.75 67.55 L309.68 67.56 L310.61 67.58 L311.54 67.6 L312.47 67.62 L313.4 67.64 L314.33 67.67 L315.26 67.7 L316.19 67.73 L317.12 67.77 L318.05 67.81 L318.98 67.85 L319.91 67.9 L320.84 67.96 L321.77 68.02 L322.7 68.08 L323.63 68.16 L324.56 68.24 L325.49 68.33 L326.42 68.43 L327.35 68.54 L328.28 68.66 L329.21 68.8 L330.14 68.95 L331.07 69.11 L332 69.29 L332.93 69.49 L333.86 69.71 L334.79 69.95 L335.72 70.22 L336.65 70.51 L337.58 70.83 L338.51 71.18 L339.44 71.57 L340.37 71.99 L341.3 72.45 L342.23 72.95 L343.16 73.5 L344.09 74.09 L345.02 74.74 L345.95 75.44 L346.88 76.19 L347.81 77.01 L348.74 77.88 L349.67 78.82 L350.6 79.81 L351.53 80.88 L352.46 82.01 L353.39 83.2 L354.32 84.46 L355.25 85.77 L356.18 87.15 L357.11 88.57 L358.04 90.05 L358.97 91.57 L359.9 93.13 L360.83 94.71 L361.76 96.32 L362.69 97.94 L363.62 99.56 L364.55 101.18 L365.48 102.79 L366.41 104.37 L367.34 105.93 L368.27 107.45 L369.2 108.93 L370.13 110.35 L371.06 111.73 L371.99 113.04 L372.92 114.3 L373.85 115.49 L374.78 116.62 L375.71 117.69 L376.64 118.68 L377.57 119.62 L378.5 120.49 L379.43 121.31 L380.36 122.06 L381.29 122.76 L382.22 123.41 L383.15 124 L384.08 124.55" fill="none" stroke="#f57f20" stroke-width="1.55" stroke-linecap="round" stroke-linejoin="round"/>
<path d="M316.5 64.9 V70.1 M314 64.9 H319 M314 70.1 H319" fill="none" stroke="#f57f20" stroke-width="1.3"/>
<circle cx="316.5" cy="67.5" r="1.35" fill="#f57f20"/>
<path d="M341.35 67.3 V72.5 M338.85 67.3 H343.85 M338.85 72.5 H343.85" fill="none" stroke="#f57f20" stroke-width="1.3"/>
<circle cx="341.35" cy="69.9" r="1.35" fill="#f57f20"/>
<circle cx="348.9" cy="78.4" r="1.35" fill="#f57f20"/>
<circle cx="354.6" cy="85.6" r="1.35" fill="#f57f20"/>
<circle cx="360.1" cy="94.9" r="1.35" fill="#f57f20"/>
<circle cx="367.1" cy="105.1" r="1.35" fill="#f57f20"/>
<circle cx="372.1" cy="110.9" r="1.35" fill="#f57f20"/>
<circle cx="378" cy="120.5" r="1.35" fill="#f57f20"/>
<path d="M266.9 67.4 L267.83 67.4 L268.76 67.4 L269.69 67.4 L270.62 67.4 L271.55 67.4 L272.48 67.4 L273.41 67.41 L274.34 67.41 L275.27 67.41 L276.2 67.41 L277.13 67.41 L278.06 67.41 L278.99 67.41 L279.92 67.41 L280.85 67.41 L281.78 67.41 L282.71 67.41 L283.64 67.42 L284.57 67.42 L285.5 67.42 L286.43 67.42 L287.36 67.42 L288.29 67.43 L289.22 67.43 L290.15 67.43 L291.08 67.44 L292.01 67.44 L292.94 67.44 L293.87 67.45 L294.8 67.45 L295.73 67.46 L296.66 67.47 L297.59 67.47 L298.52 67.48 L299.45 67.49 L300.38 67.5 L301.31 67.51 L302.24 67.52 L303.17 67.53 L304.1 67.55 L305.03 67.56 L305.96 67.58 L306.89 67.6 L307.82 67.62 L308.75 67.65 L309.68 67.67 L310.61 67.7 L311.54 67.73 L312.47 67.76 L313.4 67.8 L314.33 67.85 L315.26 67.89 L316.19 67.94 L317.12 68 L318.05 68.06 L318.98 68.13 L319.91 68.21 L320.84 68.29 L321.77 68.38 L322.7 68.48 L323.63 68.59 L324.56 68.72 L325.49 68.85 L326.42 69 L327.35 69.17 L328.28 69.34 L329.21 69.54 L330.14 69.76 L331.07 70 L332 70.26 L332.93 70.54 L333.86 70.85 L334.79 71.2 L335.72 71.57 L336.65 71.97 L337.58 72.42 L338.51 72.9 L339.44 73.42 L340.37 73.99 L341.3 74.6 L342.23 75.26 L343.16 75.97 L344.09 76.74 L345.02 77.56 L345.95 78.44 L346.88 79.38 L347.81 80.38 L348.74 81.44 L349.67 82.56 L350.6 83.73 L351.53 84.97 L352.46 86.26 L353.39 87.6 L354.32 89 L355.25 90.43 L356.18 91.91 L357.11 93.41 L358.04 94.95 L358.97 96.5 L359.9 98.06 L360.83 99.63 L361.76 101.19 L362.69 102.74 L363.62 104.27 L364.55 105.77 L365.48 107.24 L366.41 108.67 L367.34 110.06 L368.27 111.4 L369.2 112.68 L370.13 113.91 L371.06 115.08 L371.99 116.19 L372.92 117.24 L373.85 118.24 L374.78 119.17 L375.71 120.04 L376.64 120.86 L377.57 121.62 L378.5 122.32 L379.43 122.98 L380.36 123.58 L381.29 124.15 L382.22 124.66 L383.15 125.14 L384.08 125.58" fill="none" stroke="#2fb34a" stroke-width="1.55" stroke-linecap="round" stroke-linejoin="round"/>
<path d="M266.7 65.5 V70.3 M264.2 65.5 H269.2 M264.2 70.3 H269.2" fill="none" stroke="#2fb34a" stroke-width="1.3"/>
<rect x="265.45" y="66.65" width="2.5" height="2.5" fill="#2fb34a"/>
<path d="M322.5 66.7 V72.5 M320 66.7 H325 M320 72.5 H325" fill="none" stroke="#2fb34a" stroke-width="1.3"/>
<rect x="321.25" y="68.35" width="2.5" height="2.5" fill="#2fb34a"/>
<path d="M335.5 66.7 V73.1 M333 66.7 H338 M333 73.1 H338" fill="none" stroke="#2fb34a" stroke-width="1.3"/>
<rect x="334.25" y="68.65" width="2.5" height="2.5" fill="#2fb34a"/>
<rect x="347.15" y="81.55" width="2.5" height="2.5" fill="#2fb34a"/>
<rect x="351.55" y="89.55" width="2.5" height="2.5" fill="#2fb34a"/>
<rect x="358.05" y="97.15" width="2.5" height="2.5" fill="#2fb34a"/>
<rect x="365.35" y="105.35" width="2.5" height="2.5" fill="#2fb34a"/>
<rect x="370.85" y="111.75" width="2.5" height="2.5" fill="#2fb34a"/>
<rect x="377.05" y="120.55" width="2.5" height="2.5" fill="#2fb34a"/>
<rect x="382.55" y="128.65" width="2.5" height="2.5" fill="#2fb34a"/>
<text x="290.8" y="156.5" font-size="10.4">Log (DAG [M])</text>
<text transform="translate(205.6,99) rotate(-90)" font-size="10.2" text-anchor="middle">Survival Cells (% untreated)</text>
<path d="M376.6 47.9 H391.1" stroke="#2fb34a" stroke-width="1.55"/>
<rect x="382.61" y="46.71" width="2.38" height="2.38" fill="#2fb34a"/>
<text x="394.4" y="51" font-size="10">M059K</text>
<path d="M376.6 62.2 H391.1" stroke="#f57f20" stroke-width="1.55"/>
<circle cx="383.8" cy="62.2" r="1.28" fill="#f57f20"/>
<text x="394.4" y="65.3" font-size="10">M059J</text>
</g>
<text x="450.5" y="12.7" font-size="16">c</text>
<g>
<text x="504.7" y="22.8" font-size="10.08">IC<tspan font-size="6.2" dy="3.5">50</tspan><tspan dy="-3.5"> of DAG treatment for 72 h</tspan></text>
<path d="M483.2 35.5 V162.3" stroke="#000" stroke-width="1.4" fill="none"/>
<path d="M483.2 130.1 H670" stroke="#000" stroke-width="1.4" fill="none"/>
<path d="M478.9 36.3 H483.2" stroke="#000" stroke-width="1.4"/>
<text x="476.6" y="39.7" font-size="8.2" text-anchor="end">150</text>
<path d="M478.9 67.6 H483.2" stroke="#000" stroke-width="1.4"/>
<text x="476.6" y="71" font-size="8.2" text-anchor="end">100</text>
<path d="M478.9 98.9 H483.2" stroke="#000" stroke-width="1.4"/>
<text x="476.6" y="102.3" font-size="8.2" text-anchor="end">50</text>
<path d="M478.9 130.2 H483.2" stroke="#000" stroke-width="1.4"/>
<text x="477.7" y="133.6" font-size="8.2" text-anchor="end">0</text>
<path d="M478.9 161.5 H483.2" stroke="#000" stroke-width="1.4"/>
<text x="477.7" y="164.9" font-size="8.2" text-anchor="end">-50</text>
<path d="M520.5 130.1 V134.5" stroke="#000" stroke-width="1.4"/>
<text x="519.7" y="144.4" font-size="8.4" text-anchor="middle">-10</text>
<path d="M557.7 130.1 V134.5" stroke="#000" stroke-width="1.4"/>
<text x="556.9" y="144.4" font-size="8.4" text-anchor="middle">-8</text>
<path d="M594.9 130.1 V134.5" stroke="#000" stroke-width="1.4"/>
<text x="594.1" y="144.4" font-size="8.4" text-anchor="middle">-6</text>
<path d="M632.1 130.1 V134.5" stroke="#000" stroke-width="1.4"/>
<text x="631.3" y="144.4" font-size="8.4" text-anchor="middle">-4</text>
<path d="M669.3 130.1 V134.5" stroke="#000" stroke-width="1.4"/>
<text x="668.5" y="144.4" font-size="8.4" text-anchor="middle">-2</text>
<path d="M520.5 67.4 L521.43 67.4 L522.36 67.4 L523.29 67.41 L524.22 67.41 L525.15 67.41 L526.08 67.41 L527.01 67.41 L527.94 67.41 L528.87 67.41 L529.8 67.41 L530.73 67.41 L531.66 67.41 L532.59 67.41 L533.52 67.41 L534.45 67.42 L535.38 67.42 L536.31 67.42 L537.24 67.42 L538.17 67.42 L539.1 67.42 L540.03 67.43 L540.96 67.43 L541.89 67.43 L542.82 67.43 L543.75 67.44 L544.68 67.44 L545.61 67.45 L546.54 67.45 L547.47 67.45 L548.4 67.46 L549.33 67.46 L550.26 67.47 L551.19 67.48 L552.12 67.48 L553.05 67.49 L553.98 67.5 L554.91 67.51 L555.84 67.52 L556.77 67.53 L557.7 67.54 L558.63 67.56 L559.56 67.57 L560.49 67.59 L561.42 67.61 L562.35 67.63 L563.28 67.65 L564.21 67.67 L565.14 67.7 L566.07 67.72 L567 67.75 L567.93 67.79 L568.86 67.82 L569.79 67.86 L570.72 67.91 L571.65 67.95 L572.58 68 L573.51 68.06 L574.44 68.12 L575.37 68.19 L576.3 68.26 L577.23 68.34 L578.16 68.43 L579.09 68.52 L580.02 68.63 L580.95 68.74 L581.88 68.86 L582.81 68.99 L583.74 69.14 L584.67 69.3 L585.6 69.47 L586.53 69.66 L587.46 69.86 L588.39 70.08 L589.32 70.32 L590.25 70.59 L591.18 70.87 L592.11 71.17 L593.04 71.51 L593.97 71.86 L594.9 72.25 L595.83 72.67 L596.76 73.12 L597.69 73.6 L598.62 74.12 L599.55 74.68 L600.48 75.28 L601.41 75.92 L602.34 76.6 L603.27 77.33 L604.2 78.1 L605.13 78.93 L606.06 79.79 L606.99 80.71 L607.92 81.68 L608.85 82.69 L609.78 83.75 L610.71 84.86 L611.64 86.02 L612.57 87.21 L613.5 88.45 L614.43 89.72 L615.36 91.03 L616.29 92.37 L617.22 93.73 L618.15 95.11 L619.08 96.5 L620.01 97.91 L620.94 99.31 L621.87 100.72 L622.8 102.12 L623.73 103.5 L624.66 104.86 L625.59 106.21 L626.52 107.52 L627.45 108.8 L628.38 110.04 L629.31 111.25 L630.24 112.41 L631.17 113.53 L632.1 114.6 L633.03 115.62 L633.96 116.6 L634.89 117.53 L635.82 118.4 L636.75 119.24" fill="none" stroke="#f57f20" stroke-width="1.55" stroke-linecap="round" stroke-linejoin="round"/>
<path d="M594.9 65.5 V78.5 M592.4 65.5 H597.4 M592.4 78.5 H597.4" fill="none" stroke="#f57f20" stroke-width="1.3"/>
<circle cx="594.9" cy="72" r="1.35" fill="#f57f20"/>
<path d="M600.1 73.5 V82.5 M597.6 73.5 H602.6 M597.6 82.5 H602.6" fill="none" stroke="#f57f20" stroke-width="1.3"/>
<circle cx="600.1" cy="78" r="1.35" fill="#f57f20"/>
<path d="M603.5 76.5 V84.5 M601 76.5 H606 M601 84.5 H606" fill="none" stroke="#f57f20" stroke-width="1.3"/>
<circle cx="603.5" cy="80.5" r="1.35" fill="#f57f20"/>
<circle cx="610" cy="84" r="1.35" fill="#f57f20"/>
<circle cx="616" cy="92" r="1.35" fill="#f57f20"/>
<circle cx="621.7" cy="100" r="1.35" fill="#f57f20"/>
<circle cx="632.1" cy="116.5" r="1.35" fill="#f57f20"/>
<path d="M520.5 67.4 L521.43 67.4 L522.36 67.4 L523.29 67.4 L524.22 67.4 L525.15 67.4 L526.08 67.4 L527.01 67.4 L527.94 67.4 L528.87 67.4 L529.8 67.4 L530.73 67.4 L531.66 67.4 L532.59 67.4 L533.52 67.4 L534.45 67.4 L535.38 67.4 L536.31 67.4 L537.24 67.4 L538.17 67.4 L539.1 67.4 L540.03 67.4 L540.96 67.41 L541.89 67.41 L542.82 67.41 L543.75 67.41 L544.68 67.41 L545.61 67.41 L546.54 67.41 L547.47 67.42 L548.4 67.42 L549.33 67.42 L550.26 67.42 L551.19 67.43 L552.12 67.43 L553.05 67.44 L553.98 67.44 L554.91 67.45 L555.84 67.46 L556.77 67.46 L557.7 67.47 L558.63 67.49 L559.56 67.5 L560.49 67.51 L561.42 67.53 L562.35 67.55 L563.28 67.58 L564.21 67.6 L565.14 67.63 L566.07 67.67 L567 67.71 L567.93 67.76 L568.86 67.81 L569.79 67.88 L570.72 67.95 L571.65 68.04 L572.58 68.13 L573.51 68.24 L574.44 68.37 L575.37 68.52 L576.3 68.69 L577.23 68.89 L578.16 69.11 L579.09 69.37 L580.02 69.66 L580.95 69.99 L581.88 70.38 L582.81 70.81 L583.74 71.31 L584.67 71.87 L585.6 72.5 L586.53 73.22 L587.46 74.03 L588.39 74.93 L589.32 75.94 L590.25 77.05 L591.18 78.29 L592.11 79.64 L593.04 81.12 L593.97 82.73 L594.9 84.46 L595.83 86.3 L596.76 88.25 L597.69 90.3 L598.62 92.43 L599.55 94.62 L600.48 96.86 L601.41 99.11 L602.34 101.36 L603.27 103.58 L604.2 105.76 L605.13 107.86 L606.06 109.88 L606.99 111.8 L607.92 113.61 L608.85 115.3 L609.78 116.86 L610.71 118.3 L611.64 119.62 L612.57 120.82 L613.5 121.9 L614.43 122.87 L615.36 123.74 L616.29 124.52 L617.22 125.21 L618.15 125.82 L619.08 126.36 L620.01 126.83 L620.94 127.25 L621.87 127.62 L622.8 127.94 L623.73 128.22 L624.66 128.47 L625.59 128.68 L626.52 128.87 L627.45 129.03 L628.38 129.17 L629.31 129.29 L630.24 129.4 L631.17 129.49 L632.1 129.57 L633.03 129.64 L633.96 129.7 L634.89 129.76 L635.82 129.8" fill="none" stroke="#2fb34a" stroke-width="1.55" stroke-linecap="round" stroke-linejoin="round"/>
<path d="M520.4 64.4 V71.2 M517.9 64.4 H522.9 M517.9 71.2 H522.9" fill="none" stroke="#2fb34a" stroke-width="1.3"/>
<path d="M520.4 69.6 l1.7 -3 h-3.4z" fill="#2fb34a"/>
<path d="M589.2 66.6 V77.4 M586.7 66.6 H591.7 M586.7 77.4 H591.7" fill="none" stroke="#2fb34a" stroke-width="1.3"/>
<path d="M589.2 73.8 l1.7 -3 h-3.4z" fill="#2fb34a"/>
<path d="M593.7 89.6 l1.7 -3 h-3.4z" fill="#2fb34a"/>
<path d="M600.1 99.6 l1.7 -3 h-3.4z" fill="#2fb34a"/>
<path d="M602.4 106.5 l1.7 -3 h-3.4z" fill="#2fb34a"/>
<path d="M606.5 113.5 l1.7 -3 h-3.4z" fill="#2fb34a"/>
<path d="M613.5 119.3 l1.7 -3 h-3.4z" fill="#2fb34a"/>
<path d="M621.1 124.6 l1.7 -3 h-3.4z" fill="#2fb34a"/>
<path d="M626.4 128.1 l1.7 -3 h-3.4z" fill="#2fb34a"/>
<path d="M632 130.8 l1.7 -3 h-3.4z" fill="#2fb34a"/>
<path d="M520.5 67.42 L521.43 67.42 L522.36 67.43 L523.29 67.43 L524.22 67.43 L525.15 67.43 L526.08 67.44 L527.01 67.44 L527.94 67.44 L528.87 67.45 L529.8 67.45 L530.73 67.46 L531.66 67.46 L532.59 67.47 L533.52 67.48 L534.45 67.48 L535.38 67.49 L536.31 67.5 L537.24 67.51 L538.17 67.52 L539.1 67.53 L540.03 67.54 L540.96 67.55 L541.89 67.57 L542.82 67.58 L543.75 67.6 L544.68 67.62 L545.61 67.64 L546.54 67.66 L547.47 67.68 L548.4 67.71 L549.33 67.74 L550.26 67.77 L551.19 67.8 L552.12 67.84 L553.05 67.88 L553.98 67.93 L554.91 67.98 L555.84 68.03 L556.77 68.09 L557.7 68.15 L558.63 68.22 L559.56 68.29 L560.49 68.37 L561.42 68.46 L562.35 68.56 L563.28 68.66 L564.21 68.78 L565.14 68.9 L566.07 69.04 L567 69.19 L567.93 69.35 L568.86 69.52 L569.79 69.71 L570.72 69.91 L571.65 70.14 L572.58 70.38 L573.51 70.64 L574.44 70.92 L575.37 71.23 L576.3 71.56 L577.23 71.92 L578.16 72.31 L579.09 72.72 L580.02 73.17 L580.95 73.65 L581.88 74.17 L582.81 74.72 L583.74 75.32 L584.67 75.95 L585.6 76.63 L586.53 77.35 L587.46 78.11 L588.39 78.92 L589.32 79.78 L590.25 80.68 L591.18 81.64 L592.11 82.63 L593.04 83.68 L593.97 84.77 L594.9 85.91 L595.83 87.08 L596.76 88.3 L597.69 89.55 L598.62 90.84 L599.55 92.15 L600.48 93.49 L601.41 94.85 L602.34 96.23 L603.27 97.61 L604.2 99 L605.13 100.39 L606.06 101.77 L606.99 103.14 L607.92 104.49 L608.85 105.82 L609.78 107.13 L610.71 108.4 L611.64 109.64 L612.57 110.85 L613.5 112.01 L614.43 113.13 L615.36 114.2 L616.29 115.23 L617.22 116.21 L618.15 117.15 L619.08 118.04 L620.01 118.88 L620.94 119.67 L621.87 120.42 L622.8 121.12 L623.73 121.78 L624.66 122.4 L625.59 122.98 L626.52 123.52 L627.45 124.02 L628.38 124.49 L629.31 124.93 L630.24 125.34 L631.17 125.71 L632.1 126.06 L633.03 126.38 L633.96 126.68 L634.89 126.96 L635.82 127.21 L636.75 127.45 L637.68 127.66 L638.61 127.86" fill="none" stroke="#e41e26" stroke-width="1.55" stroke-linecap="round" stroke-linejoin="round"/>
<path d="M520.4 65.2 V70.4 M517.9 65.2 H522.9 M517.9 70.4 H522.9" fill="none" stroke="#e41e26" stroke-width="1.3"/>
<path d="M520.4 66 l1.7 3 h-3.4z" fill="#e41e26"/>
<path d="M587.8 75 V81 M585.3 75 H590.3 M585.3 81 H590.3" fill="none" stroke="#e41e26" stroke-width="1.3"/>
<path d="M587.8 76.2 l1.7 3 h-3.4z" fill="#e41e26"/>
<path d="M594.3 83.7 l1.7 3 h-3.4z" fill="#e41e26"/>
<path d="M603 97.2 l1.7 3 h-3.4z" fill="#e41e26"/>
<path d="M610 105.8 l1.7 3 h-3.4z" fill="#e41e26"/>
<path d="M614.1 109.3 l1.7 3 h-3.4z" fill="#e41e26"/>
<path d="M620.5 118.6 l1.7 3 h-3.4z" fill="#e41e26"/>
<path d="M626.4 121.6 l1.7 3 h-3.4z" fill="#e41e26"/>
<path d="M632.2 125.3 l1.7 3 h-3.4z" fill="#e41e26"/>
<path d="M639 127.7 l1.7 3 h-3.4z" fill="#e41e26"/>
<path d="M520.5 67.53 L521.43 67.53 L522.36 67.54 L523.29 67.55 L524.22 67.56 L525.15 67.57 L526.08 67.58 L527.01 67.59 L527.94 67.6 L528.87 67.61 L529.8 67.63 L530.73 67.64 L531.66 67.65 L532.59 67.67 L533.52 67.68 L534.45 67.7 L535.38 67.72 L536.31 67.74 L537.24 67.76 L538.17 67.78 L539.1 67.8 L540.03 67.82 L540.96 67.85 L541.89 67.88 L542.82 67.9 L543.75 67.93 L544.68 67.96 L545.61 68 L546.54 68.03 L547.47 68.07 L548.4 68.11 L549.33 68.15 L550.26 68.19 L551.19 68.24 L552.12 68.29 L553.05 68.34 L553.98 68.4 L554.91 68.45 L555.84 68.52 L556.77 68.58 L557.7 68.65 L558.63 68.72 L559.56 68.8 L560.49 68.88 L561.42 68.96 L562.35 69.05 L563.28 69.15 L564.21 69.25 L565.14 69.36 L566.07 69.47 L567 69.59 L567.93 69.71 L568.86 69.84 L569.79 69.98 L570.72 70.13 L571.65 70.28 L572.58 70.45 L573.51 70.62 L574.44 70.8 L575.37 70.99 L576.3 71.19 L577.23 71.4 L578.16 71.62 L579.09 71.85 L580.02 72.09 L580.95 72.35 L581.88 72.62 L582.81 72.9 L583.74 73.2 L584.67 73.51 L585.6 73.83 L586.53 74.17 L587.46 74.53 L588.39 74.9 L589.32 75.29 L590.25 75.69 L591.18 76.12 L592.11 76.56 L593.04 77.02 L593.97 77.49 L594.9 77.99 L595.83 78.51 L596.76 79.04 L597.69 79.6 L598.62 80.17 L599.55 80.77 L600.48 81.39 L601.41 82.02 L602.34 82.68 L603.27 83.35 L604.2 84.04 L605.13 84.76 L606.06 85.49 L606.99 86.24 L607.92 87.01 L608.85 87.79 L609.78 88.59 L610.71 89.41 L611.64 90.23 L612.57 91.08 L613.5 91.93 L614.43 92.8 L615.36 93.67 L616.29 94.55 L617.22 95.44 L618.15 96.34 L619.08 97.24 L620.01 98.14 L620.94 99.04 L621.87 99.94 L622.8 100.84 L623.73 101.74 L624.66 102.63 L625.59 103.51 L626.52 104.39 L627.45 105.26 L628.38 106.12 L629.31 106.96 L630.24 107.8 L631.17 108.62 L632.1 109.42 L633.03 110.21 L633.96 110.99 L634.89 111.74 L635.82 112.48 L636.75 113.2" fill="none" stroke="#3b54ad" stroke-width="1.55" stroke-linecap="round" stroke-linejoin="round"/>
<path d="M520.4 61.1 V74.5 M517.9 61.1 H522.9 M517.9 74.5 H522.9" fill="none" stroke="#3b54ad" stroke-width="1.3"/>
<circle cx="520.4" cy="67.8" r="1.35" fill="#3b54ad"/>
<path d="M594.9 68.6 V78.6 M592.4 68.6 H597.4 M592.4 78.6 H597.4" fill="none" stroke="#3b54ad" stroke-width="1.3"/>
<circle cx="594.9" cy="73.6" r="1.35" fill="#3b54ad"/>
<path d="M601.9 75 V96.6 M599.4 75 H604.4 M599.4 96.6 H604.4" fill="none" stroke="#3b54ad" stroke-width="1.3"/>
<circle cx="601.9" cy="85.8" r="1.35" fill="#3b54ad"/>
<path d="M607.1 90.5 V94.5 M604.6 90.5 H609.6 M604.6 94.5 H609.6" fill="none" stroke="#3b54ad" stroke-width="1.3"/>
<circle cx="607.1" cy="92.5" r="1.35" fill="#3b54ad"/>
<path d="M613.5 91.2 V96.2 M611 91.2 H616 M611 96.2 H616" fill="none" stroke="#3b54ad" stroke-width="1.3"/>
<circle cx="613.5" cy="93.7" r="1.35" fill="#3b54ad"/>
<path d="M621.1 90.5 V94.5 M618.6 90.5 H623.6 M618.6 94.5 H623.6" fill="none" stroke="#3b54ad" stroke-width="1.3"/>
<circle cx="621.1" cy="92.5" r="1.35" fill="#3b54ad"/>
<path d="M625.2 90.5 V94.5 M622.7 90.5 H627.7 M622.7 94.5 H627.7" fill="none" stroke="#3b54ad" stroke-width="1.3"/>
<circle cx="625.2" cy="92.5" r="1.35" fill="#3b54ad"/>
<path d="M627 96.4 V100.4 M624.5 96.4 H629.5 M624.5 100.4 H629.5" fill="none" stroke="#3b54ad" stroke-width="1.3"/>
<circle cx="627" cy="98.4" r="1.35" fill="#3b54ad"/>
<path d="M632.2 101.6 V105.6 M629.7 101.6 H634.7 M629.7 105.6 H634.7" fill="none" stroke="#3b54ad" stroke-width="1.3"/>
<circle cx="632.2" cy="103.6" r="1.35" fill="#3b54ad"/>
<circle cx="639.2" cy="129.7" r="1.35" fill="#3b54ad"/>
<text x="544.4" y="156.5" font-size="10.4">Log (DAG [M])</text>
<text transform="translate(460.2,99) rotate(-90)" font-size="10.2" text-anchor="middle">Survival Cells (% untreated)</text>
<path d="M623.8 37 H638.3" stroke="#3b54ad" stroke-width="1.55"/>
<circle cx="631" cy="37" r="1.28" fill="#3b54ad"/>
<text x="642.6" y="40.1" font-size="10">PC-3</text>
<path d="M623.8 48.45 H638.3" stroke="#e41e26" stroke-width="1.55"/>
<path d="M631 46.74 l1.61 2.85 h-3.23z" fill="#e41e26"/>
<text x="642.6" y="51.55" font-size="10">LNCaP</text>
<path d="M623.8 59.9 H638.3" stroke="#2fb34a" stroke-width="1.55"/>
<path d="M631 61.61 l1.61 -2.85 h-3.23z" fill="#2fb34a"/>
<text x="642.6" y="63" font-size="10">DU-145</text>
<path d="M623.8 71.35 H638.3" stroke="#f57f20" stroke-width="1.55"/>
<circle cx="631" cy="71.35" r="1.28" fill="#f57f20"/>
<text x="642.6" y="74.45" font-size="10">PC-3-DR</text>
</g>
<g>
<path d="M202.7 193.5 H431.2" stroke="#4a4a4a" stroke-width="0.8"/>
<path d="M202.7 210.8 H431.2" stroke="#4a4a4a" stroke-width="0.8"/>
<path d="M278.5 176.1 V227.8" stroke="#4a4a4a" stroke-width="0.8"/>
<path d="M354.5 176.1 V227.8" stroke="#4a4a4a" stroke-width="0.8"/>
<rect x="202.7" y="176.1" width="228.5" height="51.7" fill="none" stroke="#3c3c3c" stroke-width="1"/>
<text x="241.8" y="188" font-size="10.8" text-anchor="middle">Cell line</text>
<text x="318.9" y="188" font-size="10.8" text-anchor="middle">IC<tspan font-size="6.4" dy="3.4">50</tspan><tspan dy="-3.4"> (µM)</tspan></text>
<text x="392.7" y="188" font-size="10.8" text-anchor="middle">IC<tspan font-size="6.4" dy="3.4">50</tspan><tspan dy="-3.4"> range (µM)</tspan></text>
<text x="241.4" y="206.3" font-size="10.8" text-anchor="middle">M059K</text>
<text x="316.6" y="206.5" font-size="9.45" text-anchor="middle">11.0</text>
<text x="391.8" y="206.5" font-size="9.45" text-anchor="middle">9.7 - 12.4</text>
<text x="240.8" y="223.6" font-size="10.8" text-anchor="middle">M059J</text>
<text x="316.6" y="223.8" font-size="9.45" text-anchor="middle">14.5</text>
<text x="390.4" y="223.8" font-size="9.45" text-anchor="middle">13.0 - 16.1</text>
</g>
<g>
<path d="M456.6 190.5 H684.4" stroke="#4a4a4a" stroke-width="0.8"/>
<path d="M456.6 207.5 H684.4" stroke="#4a4a4a" stroke-width="0.8"/>
<path d="M456.6 224.7 H684.4" stroke="#4a4a4a" stroke-width="0.8"/>
<path d="M456.6 241.5 H684.4" stroke="#4a4a4a" stroke-width="0.8"/>
<path d="M533 173.8 V257.7" stroke="#4a4a4a" stroke-width="0.8"/>
<path d="M608.4 173.8 V257.7" stroke="#4a4a4a" stroke-width="0.8"/>
<path d="M456.6 257.7 V173.8 H684.4 V257.7" fill="none" stroke="#3c3c3c" stroke-width="1"/>
<path d="M456.1 258.15 H684.9" fill="none" stroke="#666" stroke-width="1.9"/>
<text x="495.6" y="186" font-size="10.8" text-anchor="middle">Cell line</text>
<text x="572.6" y="186" font-size="10.8" text-anchor="middle">IC<tspan font-size="6.4" dy="3.4">50</tspan><tspan dy="-3.4"> (µM)</tspan></text>
<text x="646.3" y="186" font-size="10.8" text-anchor="middle">IC<tspan font-size="6.4" dy="3.4">50</tspan><tspan dy="-3.4"> range (µM)</tspan></text>
<text x="494.8" y="203.6" font-size="10.8" text-anchor="middle">PC-3</text>
<text x="571.2" y="203.8" font-size="9.45" text-anchor="middle">24.2</text>
<text x="644.1" y="203.8" font-size="9.45" text-anchor="middle">15.5 - 37.7</text>
<text x="494.9" y="220.1" font-size="10.8" text-anchor="middle">LNCaP</text>
<text x="571.7" y="220.3" font-size="9.45" text-anchor="middle">3.1</text>
<text x="644.6" y="220.3" font-size="9.45" text-anchor="middle">2.9 - 3.4</text>
<text x="494.6" y="237.8" font-size="10.8" text-anchor="middle">DU-145</text>
<text x="571.9" y="238" font-size="9.45" text-anchor="middle">2.2</text>
<text x="644.6" y="238" font-size="9.45" text-anchor="middle">1.9 - 2.4</text>
<text x="495.1" y="254" font-size="10.8" text-anchor="middle">PC-3-DR</text>
<text x="571.3" y="254.2" font-size="9.45" text-anchor="middle">22.3</text>
<text x="644.1" y="254.2" font-size="9.45" text-anchor="middle">17.8 - 27.8</text>
</g>
</svg></body></html>
